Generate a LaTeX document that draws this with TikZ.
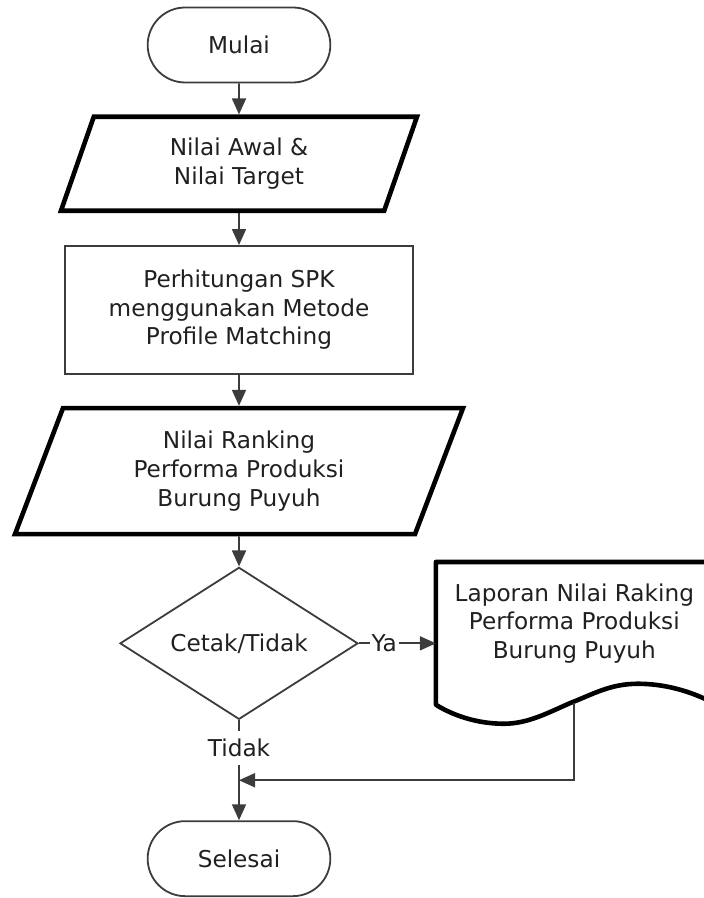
\documentclass[tikz,border=0pt]{standalone}
\usepackage{fontspec}
\setmainfont{DejaVu Sans}
\usetikzlibrary{positioning, shapes.geometric, shapes.misc, arrows.meta, calc}

\definecolor{linegray}{HTML}{3C3C3C}
\definecolor{textgray}{HTML}{202020}

\tikzset{
    base/.style={align=center, text=textgray, font=\fontsize{11.6}{14.3}\selectfont},
    terminal/.style={base, rounded rectangle, draw=linegray, line width=0.9pt, minimum width=98pt, minimum height=37.5pt},
    io/.style={base, trapezium, trapezium stretches body, draw=black, line width=2.3pt},
    process/.style={base, rectangle, draw=linegray, line width=0.9pt, minimum width=174pt, minimum height=64pt},
    decision/.style={base, diamond, aspect=1.6, draw=linegray, line width=0.9pt, minimum width=119pt, minimum height=76pt, inner sep=0pt},
    doctext/.style={base, rectangle, minimum width=138pt, minimum height=61pt},
    docedge/.style={draw=black, line width=2.3pt, line join=round},
    flow/.style={draw=linegray, line width=0.9pt, -{Triangle[length=8pt,width=7pt]}},
    edgelabel/.style={base, fill=white, inner xsep=1pt, inner ysep=4pt},
}

\begin{document}
\begin{tikzpicture}[node distance=15.5pt]
    \useasboundingbox (-119.5pt,22.5pt) rectangle (232.5pt,-426.5pt);

    \node[terminal] (Mulai) {Mulai};
    \node[io, trapezium left angle=63, trapezium right angle=117, minimum width=178pt, minimum height=47pt, below=of Mulai] (Input)  {Nilai Awal \&\\Nilai Target};
    \node[process, below=16pt of Input] (Hitung) {Perhitungan SPK\\menggunakan Metode\\Profile Matching};
    \node[io, trapezium left angle=62.7, trapezium right angle=117.3, minimum width=224pt, minimum height=63pt, below=of Hitung] (Ranking) {Nilai Ranking\\Performa Produksi\\Burung Puyuh};
    \node[decision, below=15pt of Ranking] (Cetak) {Cetak/Tidak};
    \node[doctext, right=38.5pt of Cetak, yshift=10pt] (Laporan) {Laporan Nilai Raking\\Performa Produksi\\Burung Puyuh};
    \node[terminal, below=50pt of Cetak] (Selesai) {Selesai};

    % document outline with wavy bottom
    \begin{scope}[shift={(Laporan.south west)}]
        \draw[docedge] (0,-10pt) -- (Laporan.north west) -- (Laporan.north east) -- (138.5pt,-9pt)
            .. controls (127pt,-3pt) and (114pt,0.5pt) .. (101pt,0.5pt)
            .. controls (87pt,0.5pt) and (78pt,-5pt) .. (67.5pt,-9pt)
            .. controls (56pt,-14pt) and (46pt,-19.5pt) .. (34pt,-19.5pt)
            .. controls (20pt,-19.5pt) and (8pt,-15pt) .. (0,-10pt) -- cycle;
    \end{scope}

    \coordinate (LaporanOut) at ([yshift=-9pt]Laporan.south);
    \coordinate (Gabung) at ($(Cetak.south)!0.6!(Selesai.north)$);

    \draw[flow] (Mulai) -- (Input);
    \draw[flow] (Input) -- (Hitung);
    \draw[flow] (Hitung) -- (Ranking);
    \draw[flow] (Ranking) -- (Cetak);
    \draw[flow] (Cetak.east) -- (Cetak.east -| Laporan.west) node[edgelabel, pos=0.33] {Ya};
    \draw[flow] (Cetak.south) -- (Selesai.north) node[edgelabel, pos=0.28] {Tidak};
    \draw[flow] (LaporanOut) |- (Gabung);
\end{tikzpicture}
\end{document}
